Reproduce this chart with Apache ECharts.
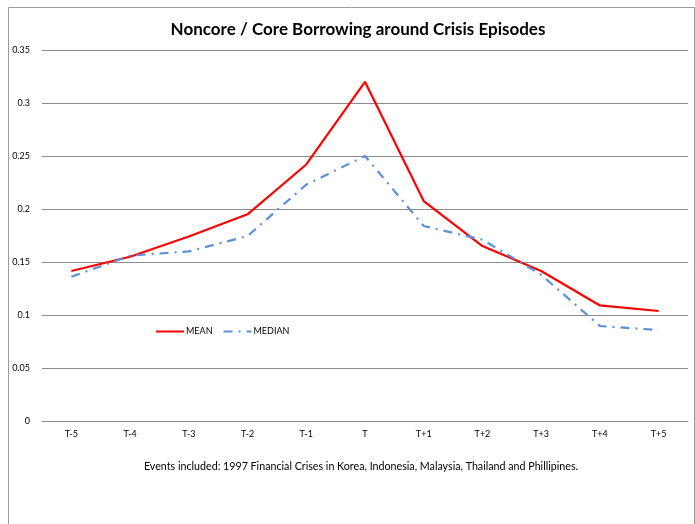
<!DOCTYPE html>
<html>
<head>
<meta charset="utf-8">
<script src="https://cdn.jsdelivr.net/npm/echarts@6/dist/echarts.min.js"></script>
<style>
  html, body { margin: 0; padding: 0; background: #fff; }
  #chart { width: 695px; height: 524px; }
</style>
</head>
<body>
<div id="chart"></div>
<script>
// Periods relative to the crisis year T
const periods = ['T-5', 'T-4', 'T-3', 'T-2', 'T-1', 'T', 'T+1', 'T+2', 'T+3', 'T+4', 'T+5'];
// Ratio of noncore to core bank liabilities
const meanValues = [0.1415, 0.155, 0.174, 0.195, 0.242, 0.320, 0.2075, 0.165, 0.1415, 0.109, 0.1038];
const medianValues = [0.136, 0.156, 0.160, 0.1745, 0.223, 0.250, 0.184, 0.171, 0.138, 0.0896, 0.0858];

const font = 'Lato, "Open Sans", sans-serif';

const chart = echarts.init(document.getElementById('chart'), null, { renderer: 'canvas' });
chart.setOption({
  animation: false,
  backgroundColor: '#fff',
  title: {
    text: 'Noncore / Core Borrowing around Crisis Episodes',
    left: 353, top: 16, textAlign: 'center',
    textStyle: { fontFamily: font, fontSize: 17, fontWeight: 'bold', color: '#000' }
  },
  graphic: [
    {
      type: 'rect', left: 6, top: 5,
      shape: { width: 686, height: 530 },
      style: { fill: 'none', stroke: '#9a9a9a', lineWidth: 1 }
    },
    {
      type: 'text', x: 361, y: 467,
      style: {
        text: 'Events included: 1997 Financial Crises in Korea, Indonesia, Malaysia, Thailand and Phillipines.',
        font: '10.7px ' + font, fill: '#000', align: 'center', verticalAlign: 'middle'
      }
    }
  ],
  legend: {
    left: 150, top: 322,
    itemWidth: 28, itemHeight: 10, itemGap: 10,
    itemStyle: { opacity: 0 },
    textStyle: { fontFamily: font, fontSize: 9, color: '#000', padding: [0, 0, 0, -3] },
    data: ['MEAN', 'MEDIAN']
  },
  grid: { left: 42, right: 7, top: 50, bottom: 103, containLabel: false },
  xAxis: {
    type: 'category',
    data: periods,
    boundaryGap: true,
    axisLine: { lineStyle: { color: '#8c8c8c', width: 1 } },
    axisTick: { show: false },
    axisLabel: { fontFamily: font, fontSize: 9, color: '#000', margin: 9 }
  },
  yAxis: {
    type: 'value',
    min: 0, max: 0.35, interval: 0.05,
    axisLine: { show: false },
    axisTick: { show: false },
    splitLine: { lineStyle: { color: '#8c8c8c', width: 1 } },
    axisLabel: {
      fontFamily: font, fontSize: 9, color: '#000', margin: 12,
      formatter: v => String(+v.toFixed(2))
    }
  },
  series: [
    {
      name: 'MEAN', type: 'line', data: meanValues,
      symbol: 'none', color: '#ff0000',
      lineStyle: { color: '#ff0000', width: 2.2 }
    },
    {
      name: 'MEDIAN', type: 'line', data: medianValues,
      symbol: 'none', color: '#5b8fd9',
      lineStyle: { color: '#5b8fd9', width: 2.2, type: [9, 6, 2, 6] }
    }
  ]
});
</script>
</body>
</html>
